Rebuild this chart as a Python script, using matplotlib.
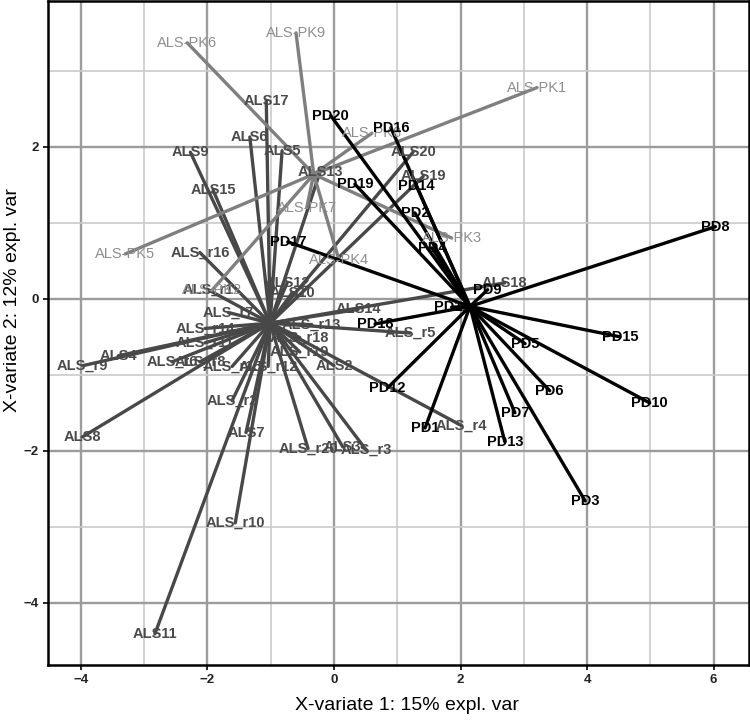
import matplotlib
matplotlib.use("Agg")
import matplotlib.pyplot as plt
import numpy as np

# ALS samples (dark grey)
als_names = ["ALS2", "ALS3", "ALS4", "ALS5", "ALS6", "ALS7", "ALS8", "ALS9", "ALS10",
             "ALS11", "ALS12", "ALS13", "ALS14", "ALS15", "ALS17", "ALS18", "ALS19",
             "ALS20", "ALS_r1", "ALS_r2", "ALS_r3", "ALS_r4", "ALS_r5", "ALS_r6",
             "ALS_r7", "ALS_r8", "ALS_r9", "ALS_r10", "ALS_r14", "ALS_r12", "ALS_r13",
             "ALS_r11", "ALS_r15", "ALS_r16", "ALS_r18", "ALS_r19", "ALS_r20"]
als_x = [0.00, 0.14, -3.41, -0.82, -1.33, -1.39, -3.98, -2.27, -0.66,
         -2.83, -0.74, -0.22, 0.38, -1.91, -1.07, 2.70, 1.41,
         1.25, -1.99, -1.61, 0.51, 2.02, 1.20, -2.56,
         -1.67, -2.12, -3.97, -1.56, -2.04, -1.04, -0.35,
         -2.04, -1.61, -2.12, -0.54, -0.54, -0.41]
als_y = [-0.88, -1.95, -0.75, 1.95, 2.13, -1.76, -1.82, 1.93, 0.08,
         -4.41, 0.21, 1.67, -0.14, 1.43, 2.61, 0.21, 1.61,
         1.93, 0.12, -1.34, -1.99, -1.67, -0.45, -0.83,
         -0.18, -0.83, -0.88, -2.95, -0.39, -0.89, -0.34,
         -0.58, -0.89, 0.61, -0.51, -0.70, -1.97]
als_center = (-1.01, -0.32)

# ALS-PK samples (light grey)
pk_names = ["ALS-PK1", "ALS-PK2", "ALS-PK3", "ALS-PK4", "ALS-PK5",
            "ALS-PK6", "ALS-PK7", "ALS-PK8", "ALS-PK9"]
pk_x = [3.21, -1.93, 1.86, 0.08, -3.30, -2.32, -0.43, 0.60, -0.60]
pk_y = [2.78, 0.11, 0.80, 0.51, 0.59, 3.37, 1.20, 2.18, 3.50]
pk_center = (-0.32, 1.64)

# PD samples (black)
pd_names = ["PD%d" % i for i in range(1, 21)]
pd_x = [1.44, 1.28, 3.97, 1.55, 3.02, 3.41, 2.86, 6.03, 2.43, 4.99,
        1.86, 0.85, 2.70, 1.30, 4.52, 0.90, -0.73, 0.65, 0.33, -0.05]
pd_y = [-1.70, 1.13, -2.66, 0.67, -0.59, -1.21, -1.50, 0.95, 0.12, -1.37,
        -0.11, -1.17, -1.88, 1.49, -0.50, 2.25, 0.75, -0.33, 1.51, 2.41]
pd_center = (2.15, -0.10)

fig = plt.figure(figsize=(7.5, 7.2), dpi=100)
ax = fig.add_axes([48 / 750, 55 / 720, 701 / 750, 664 / 720])

ax.set_xlim(-4.52, 6.56)
ax.set_ylim(-4.82, 3.92)
ax.set_xticks([-4, -2, 0, 2, 4, 6])
ax.set_yticks([-4, -2, 0, 2])
ax.set_xticks(np.arange(-3, 6, 2), minor=True)
ax.set_yticks([-3, -1, 1, 3], minor=True)
ax.grid(which="major", color="#9c9c9c", lw=1.7, zorder=0)
ax.grid(which="minor", color="#cbcbcb", lw=1.2, zorder=0)
ax.set_axisbelow(True)
ax.tick_params(which="minor", length=0)
ax.tick_params(which="major", length=3.5, width=1.2, color="black",
               labelsize=9.5, pad=3)
for lab in ax.get_xticklabels() + ax.get_yticklabels():
    lab.set_fontweight("bold")
    lab.set_family("Liberation Sans")
    lab.set_color("#222222")
for sp in ax.spines.values():
    sp.set_linewidth(1.8)
    sp.set_color("black")

groups = [
    (als_names, als_x, als_y, als_center, "#484848", "#4a4a4a", "bold"),
    (pk_names, pk_x, pk_y, pk_center, "#7f7f7f", "#8e8e8e", "normal"),
    (pd_names, pd_x, pd_y, pd_center, "#000000", "#000000", "bold"),
]

for z, (names, xs, ys, c, lcol, tcol, wt) in enumerate(groups):
    for x, y in zip(xs, ys):
        ax.plot([c[0], x], [c[1], y], color=lcol, lw=2.4,
                solid_capstyle="round", zorder=2 + z)

for names, xs, ys, c, lcol, tcol, wt in groups:
    for n, x, y in zip(names, xs, ys):
        ax.text(x, y, n, ha="center", va="center", fontsize=10.5,
                color=tcol, fontweight=wt, family="Liberation Sans", zorder=6)

ax.set_xlabel("X-variate 1: 15% expl. var", fontsize=14,
              family="Liberation Sans")
ax.set_ylabel("X-variate 2: 12% expl. var", fontsize=14,
              family="Liberation Sans")
ax.xaxis.set_label_coords((407 - 48) / 701, -32 / 664)
ax.yaxis.set_label_coords(-27 / 701, (720 - 55 - 300) / 664)

fig.savefig("out.png", dpi=100)
